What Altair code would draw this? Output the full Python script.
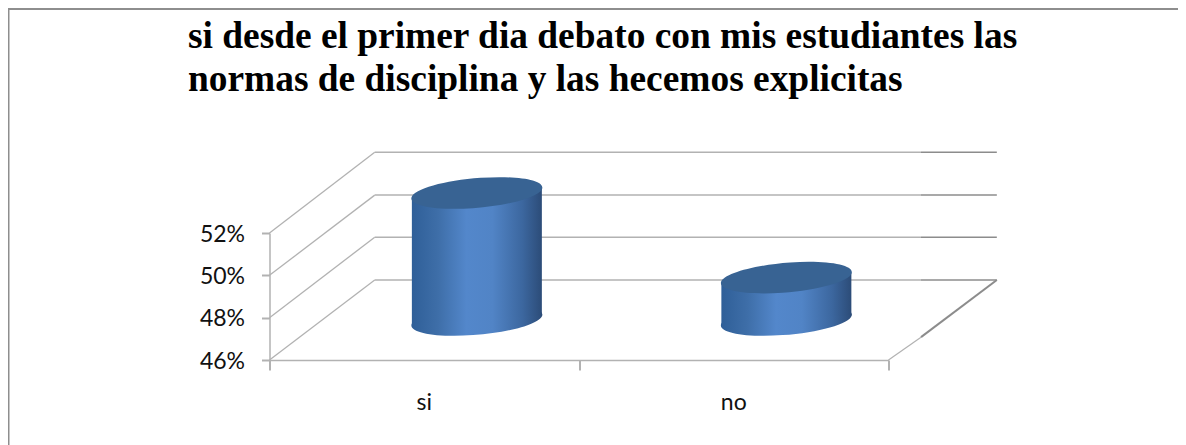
import altair as alt
import pandas as pd

title_lines = ["si desde el primer dia debato con mis estudiantes las",
               "normas de disciplina y las hecemos explicitas"]
categories = ["si", "no"]
values = [52, 48]
y_ticks = [46, 48, 50, 52]
x_ticks = [0, 1, 2]
wall_top = [49.78, 51.8, 53.79, 55.81]

DEPTH_X = 0.34
RIGHT_X = 2.35
DEPTH_Y = 3.78
HALF_W = 0.21
TILT = 0.22
BASE = 46

df = pd.DataFrame({"cat": categories, "v": values, "i": range(len(values))})
df["cx"] = df.i + 0.5 + DEPTH_X / 2
df["top"] = df.v + DEPTH_Y / 2
df["bot"] = BASE + DEPTH_Y / 2
df["lx"] = df.i + 0.5

left = df.assign(ex=df.cx - HALF_W, ey=df.bot - TILT, ey2=df.top - TILT)
right = df.assign(ex=df.cx + HALF_W, ey=df.bot + TILT, ey2=df.top + TILT)
sides = pd.concat([left, right])

GREY = "#b2b2b2"
DARK = "#8c8c8c"

xs = alt.Scale(domain=[0, 2], nice=False, zero=False)
ys = alt.Scale(domain=[46, 52], nice=False, zero=False)
x_axis = alt.Axis(values=x_ticks, labels=False, tickSize=10, tickWidth=2, tickColor=GREY,
                  domainColor=GREY, domainWidth=1.5, grid=False, title=None)
y_axis = alt.Axis(values=y_ticks, labelExpr="datum.value + '%'", tickSize=8, tickWidth=2, tickColor=GREY,
                  domainColor=GREY, domainWidth=1.5, grid=False, labelFont="Lato", labelFontSize=23,
                  labelColor="#111111", labelPadding=17, labelOffset=1, title=None)
X = lambda f: alt.X(f, type="quantitative", scale=xs, axis=x_axis)
Y = lambda f: alt.Y(f, type="quantitative", scale=ys, axis=y_axis)

ob = pd.DataFrame({"x": [0] * 4, "y": y_ticks, "x2": [DEPTH_X] * 4, "y2": wall_top})
oblique = alt.Chart(ob).mark_rule(color=GREY, strokeWidth=1.3).encode(
    x=X("x"), y=Y("y"), x2="x2:Q", y2="y2:Q")
back = pd.DataFrame({"x": [DEPTH_X] * 4, "x2": [2.105] * 4, "y": wall_top})
back_l = alt.Chart(back).mark_rule(color=GREY, strokeWidth=1.5).encode(
    x=X("x"), x2="x2:Q", y=Y("y"))
back_d = alt.Chart(pd.DataFrame({"x": [2.105] * 4, "x2": [RIGHT_X] * 4, "y": wall_top})).mark_rule(
    color=DARK, strokeWidth=1.5).encode(x=X("x"), x2="x2:Q", y=Y("y"))
floor1 = alt.Chart(pd.DataFrame({"x": [2], "x2": [2.105], "y": [46], "y2": [47.08]})).mark_rule(
    color=GREY, strokeWidth=1.2).encode(x=X("x"), x2="x2:Q", y=Y("y"), y2="y2:Q")
floor2 = alt.Chart(pd.DataFrame({"x": [2.105], "x2": [RIGHT_X], "y": [47.08], "y2": [wall_top[0]]})).mark_rule(
    color=DARK, strokeWidth=2).encode(x=X("x"), x2="x2:Q", y=Y("y"), y2="y2:Q")

side = alt.Gradient(gradient="linear", x1=0, x2=1, y1=0, y2=0, stops=[
    alt.GradientStop(offset=0, color="#2f5f98"),
    alt.GradientStop(offset=0.2, color="#3e6ea8"),
    alt.GradientStop(offset=0.42, color="#5387cb"),
    alt.GradientStop(offset=0.62, color="#5184c6"),
    alt.GradientStop(offset=0.85, color="#3c679f"),
    alt.GradientStop(offset=1, color="#2c4c78"),
])
ELLIPSE = "M-1,0.07 A1,0.225,-5,1,1,1,-0.07 A1,0.225,-5,1,1,-1,0.07 Z"
SIZE = 17100

bottom = alt.Chart(df).mark_point(shape=ELLIPSE, size=SIZE, filled=True, fill=side, strokeWidth=0, opacity=1).encode(
    x=X("cx"), y=Y("bot"))
body = alt.Chart(sides).mark_area(fill=side, orient="vertical").encode(
    x=X("ex"), y=Y("ey"), y2="ey2:Q", detail="cat:N")
top = alt.Chart(df).mark_point(shape=ELLIPSE, size=SIZE, filled=True, fill="#386393", strokeWidth=0, opacity=1).encode(
    x=X("cx"), y=Y("top"))

labels = alt.Chart(df).mark_text(font="Lato", fontSize=23, color="#111111", baseline="alphabetic").encode(
    x=X("lx"), y=alt.value(177), text="cat:N")

title_df = pd.DataFrame({"t": ["\n".join(title_lines)]})
title = alt.Chart(title_df).mark_text(font="Liberation Serif", fontSize=37.4, fontWeight="bold", color="#000000",
                                      lineHeight=43, lineBreak="\n", align="left", baseline="alphabetic").encode(
    x=alt.value(-81.5), y=alt.value(-185), text="t:N")

frame_l = alt.Chart(df.head(1)).mark_rule(color="#8e8e8e", strokeWidth=2).encode(
    x=alt.value(-261), y=alt.value(-225), y2=alt.value(212))
frame_t = alt.Chart(df.head(1)).mark_rule(color="#8e8e8e", strokeWidth=2).encode(
    y=alt.value(-224), x=alt.value(-261.5), x2=alt.value(908.5))

chart = alt.layer(oblique, back_l, back_d, floor1, floor2, bottom, body, top, labels, title, frame_l, frame_t).properties(
    width=619, height=127,
    padding={"left": 261.5, "top": 225, "right": 289.5, "bottom": 85},
    autosize=alt.AutoSizeParams(type="none"),
    background="white",
).configure_view(stroke=None)

chart.save("out.html", embed_options={"renderer": "svg", "actions": False})
